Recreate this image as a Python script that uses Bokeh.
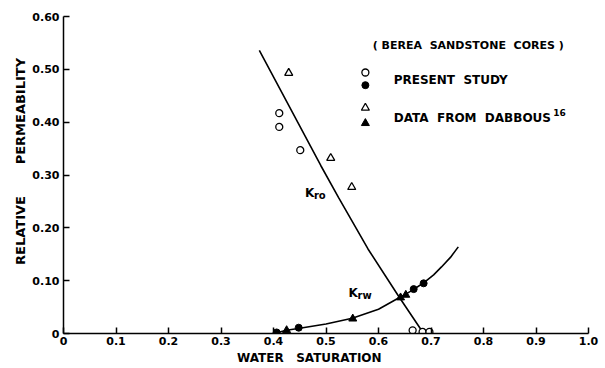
from bokeh.plotting import figure
from bokeh.models import FixedTicker, Label, Range1d
from bokeh.embed import file_html
from bokeh.resources import INLINE

# ---- data ----
# Present study, oil (open circles)
ps_kro_sw = [0.411, 0.411, 0.451, 0.665, 0.684, 0.697]
ps_kro = [0.417, 0.391, 0.347, 0.006, 0.003, 0.003]
# Present study, water (filled circles)
ps_krw_sw = [0.406, 0.448, 0.667, 0.686]
ps_krw = [0.002, 0.011, 0.084, 0.095]
# Dabbous, oil (open triangles)
db_kro_sw = [0.429, 0.509, 0.549]
db_kro = [0.493, 0.332, 0.277]
# Dabbous, water (filled triangles)
db_krw_sw = [0.425, 0.551, 0.642, 0.652]
db_krw = [0.006, 0.028, 0.068, 0.073]
# fitted curves
kro_curve_sw = [0.373, 0.430, 0.490, 0.524, 0.580, 0.638, 0.686]
kro_curve = [0.536, 0.430, 0.318, 0.257, 0.160, 0.071, 0.0]
krw_curve_sw = [0.400, 0.425, 0.450, 0.500, 0.550, 0.600, 0.640, 0.665, 0.686, 0.705, 0.720, 0.737, 0.752]
krw_curve = [0.000, 0.006, 0.010, 0.018, 0.029, 0.046, 0.068, 0.082, 0.096, 0.111, 0.126, 0.144, 0.164]

x_ticks = [0, 0.1, 0.2, 0.3, 0.4, 0.5, 0.6, 0.7, 0.8, 0.9, 1.0]
x_tick_labels = ["0", "0.1", "0.2", "0.3", "0.4", "0.5", "0.6", "0.7", "0.8", "0.9", "1.0"]
y_ticks = [0, 0.1, 0.2, 0.3, 0.4, 0.5, 0.6]
y_tick_labels = ["0", "0.10", "0.20", "0.30", "0.40", "0.50", "0.60"]

FONT = "DejaVu Sans"

p = figure(width=605, height=368, output_backend="svg", toolbar_location=None,
           x_range=Range1d(0, 1.0), y_range=Range1d(0, 0.6),
           min_border_left=63, min_border_right=17, min_border_top=16, min_border_bottom=35)
p.outline_line_color = None
p.grid.visible = False
p.background_fill_color = "white"
p.border_fill_color = "white"

for ax, ticks, labels in ((p.xaxis[0], x_ticks, x_tick_labels), (p.yaxis[0], y_ticks, y_tick_labels)):
    ax.ticker = FixedTicker(ticks=ticks)
    ax.major_label_overrides = {t: l for t, l in zip(ticks, labels)}
    ax.major_tick_in = 6
    ax.major_tick_out = 0
    ax.minor_tick_line_color = None
    ax.axis_line_width = 1.5
    ax.major_tick_line_width = 1.5
    ax.axis_line_color = "black"
    ax.major_tick_line_color = "black"
    ax.major_label_text_font = FONT
    ax.major_label_text_font_size = "11px"
    ax.major_label_text_font_style = "bold"
    ax.major_label_text_color = "black"
    ax.axis_label_text_font = FONT
    ax.axis_label_text_font_size = "12px"
    ax.axis_label_text_font_style = "bold"
    ax.axis_label_text_color = "black"

p.xaxis.axis_label = "WATER\u00a0\u00a0\u00a0SATURATION" + "\u00a0" * 8
p.xaxis.major_label_standoff = 3
p.xaxis.axis_label_standoff = 3
p.yaxis.axis_label = "\u00a0" * 6 + "RELATIVE" + "\u00a0" * 7 + "PERMEABILITY"
p.yaxis.axis_label_text_font_size = "13px"
p.yaxis.major_label_standoff = 4
p.yaxis.axis_label_standoff = 1

# curves
p.line(kro_curve_sw, kro_curve, line_color="black", line_width=1.6)
p.line(krw_curve_sw, krw_curve, line_color="black", line_width=1.6)

# points
p.scatter(ps_kro_sw, ps_kro, marker="circle", size=7, fill_color="white", line_color="black", line_width=1.3)
p.scatter(db_kro_sw, db_kro, marker="triangle", size=8, fill_color="white", line_color="black", line_width=1.3)
p.scatter(ps_krw_sw, ps_krw, marker="circle", size=7, fill_color="black", line_color="black")
p.scatter(db_krw_sw, db_krw, marker="triangle", size=8, fill_color="black", line_color="black")

# legend (layout positions in data units)
leg_sym_x = [0.575, 0.575, 0.575, 0.575]
leg_sym_y = [0.494, 0.470, 0.427, 0.398]
p.scatter(leg_sym_x[:1], leg_sym_y[:1], marker="circle", size=7, fill_color="white", line_color="black", line_width=1.3)
p.scatter(leg_sym_x[1:2], leg_sym_y[1:2], marker="circle", size=7, fill_color="black", line_color="black")
p.scatter(leg_sym_x[2:3], leg_sym_y[2:3], marker="triangle", size=8, fill_color="white", line_color="black", line_width=1.3)
p.scatter(leg_sym_x[3:], leg_sym_y[3:], marker="triangle", size=8, fill_color="black", line_color="black")

def lab(x, y, text, size="11px", align="left"):
    p.add_layout(Label(x=x, y=y, text=text, text_font=FONT, text_font_size=size,
                       text_font_style="bold", text_color="black",
                       text_baseline="middle", text_align=align))

lab(0.589, 0.546, "(\u00a0BEREA\u00a0\u00a0SANDSTONE\u00a0\u00a0CORES\u00a0)")
lab(0.629, 0.479, "PRESENT\u00a0\u00a0STUDY", size="12px")
lab(0.629, 0.407, "DATA\u00a0\u00a0FROM\u00a0\u00a0DABBOUS", size="12px")
lab(0.933, 0.418, "16", size="9px")
lab(0.460, 0.266, "K", size="12px")
lab(0.477, 0.261, "ro", size="10px")
lab(0.543, 0.077, "K", size="12px")
lab(0.560, 0.072, "rw", size="10px")

open("out.html", "w").write(file_html(p, INLINE))
